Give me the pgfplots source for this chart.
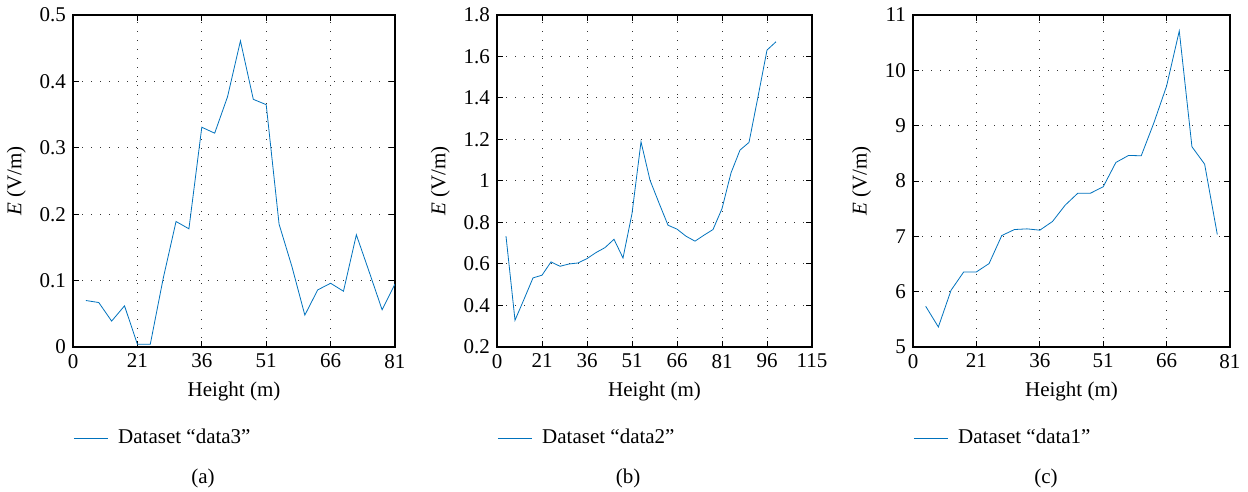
\documentclass[border=0pt]{standalone}
\usepackage{fontspec}
\setmainfont{Liberation Serif}
\usepackage{pgfplots}
\pgfplotsset{compat=1.18}
\definecolor{mblue}{RGB}{0,114,189}
\pgfplotsset{
 myax/.style={
  scale only axis, height=166pt,
  ymajorgrids, xmajorgrids,
  grid style={black!80, line width=0.5pt, dash pattern=on 0.5pt off 4pt},
  axis line style={line width=0.6pt},
  tick style={black, line width=0.5pt},
  major tick length=3pt,
  tick align=inside,
  /pgf/number format/assume math mode=true,
  tick label style={font=\fontsize{10.5}{12}\selectfont},
  label style={font=\fontsize{10.5}{12}\selectfont},
  xlabel={Height (m)},
  ylabel={\textit{E} (V/m)},
  legend style={draw=none, fill=none, font=\fontsize{10.5}{12}\selectfont, at={(0,-0.274)}, anchor=west, inner xsep=0pt, legend cell align=left,
    nodes={inner xsep=5pt}},
  legend image code/.code={\draw[#1] (0pt,0pt) -- (17pt,0pt);},
  xmin=0,
  cycle list={{mblue, no markers, line width=0.8pt}},
 }
}
\begin{document}
\begin{tikzpicture}
\path[use as bounding box] (0,0) rectangle (624pt,246pt);
% (a)
\begin{axis}[myax, at={(36.5pt,72.5pt)}, anchor=south west, width=161pt,
  xmax=75, ymin=0, ymax=0.5,
  xtick={0,15,30,45,60,75}, xticklabels={0,21,36,51,66,81},
  ytick={0,0.1,0.2,0.3,0.4,0.5}]
\addplot coordinates {(3,0.070)(6,0.067)(9,0.039)(12,0.062)(15,0.004)(18,0.004)(21,0.103)(24,0.189)(27,0.178)(30,0.331)(33,0.322)(36,0.377)(39,0.461)(42,0.373)(45,0.365)(48,0.185)(51,0.121)(54,0.048)(57,0.086)(60,0.096)(63,0.084)(66,0.169)(69,0.113)(72,0.056)(75,0.095)};
\addlegendentry{Dataset “data3”}
\end{axis}
% (b)
\begin{axis}[myax, at={(248.5pt,72.5pt)}, anchor=south west, width=157.5pt,
  xmax=105, ymin=0.2, ymax=1.8,
  xtick={0,15,30,45,60,75,90,105}, xticklabels={0,21,36,51,66,81,96,115},
  ytick={0.2,0.4,0.6,0.8,1,1.2,1.4,1.6,1.8}]
\addplot coordinates {(3,0.734)(6,0.329)(9,0.43)(12,0.533)(15,0.546)(18,0.61)(21,0.589)(24,0.600)(27,0.605)(30,0.626)(33,0.655)(36,0.679)(39,0.719)(42,0.629)(45,0.843)(48,1.189)(51,1.004)(54,0.894)(57,0.787)(60,0.768)(63,0.734)(66,0.710)(69,0.739)(72,0.766)(75,0.867)(78,1.039)(81,1.149)(84,1.186)(87,1.406)(90,1.631)(93,1.671)};
\addlegendentry{Dataset “data2”}
\end{axis}
% (c)
\begin{axis}[myax, at={(456.5pt,72.5pt)}, anchor=south west, width=158.5pt,
  xmax=75, ymin=5, ymax=11,
  xtick={0,15,30,45,60,75}, xticklabels={0,21,36,51,66,81},
  ytick={5,6,7,8,9,10,11}]
\addplot coordinates {(3,5.736)(6,5.362)(9,6.025)(12,6.357)(15,6.357)(18,6.508)(21,7.014)(24,7.123)(27,7.135)(30,7.111)(33,7.268)(36,7.563)(39,7.780)(42,7.780)(45,7.895)(48,8.335)(51,8.462)(54,8.456)(57,9.053)(60,9.716)(63,10.712)(66,8.619)(69,8.305)(72,7.033)};
\addlegendentry{Dataset “data1”}
\end{axis}
\node[font=\fontsize{10.5}{12}\selectfont] at (101.5pt,7pt) {(a)};
\node[font=\fontsize{10.5}{12}\selectfont] at (314pt,7pt) {(b)};
\node[font=\fontsize{10.5}{12}\selectfont] at (523pt,7pt) {(c)};
\end{tikzpicture}
\end{document}
